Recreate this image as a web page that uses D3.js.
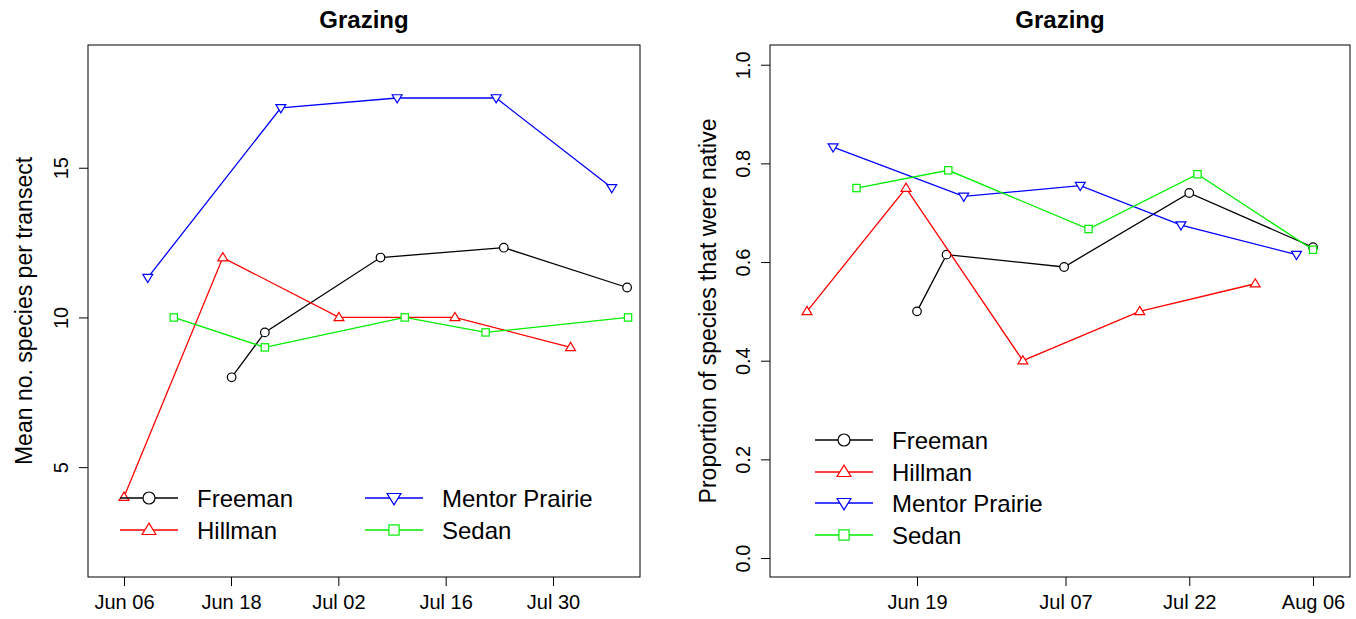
<!DOCTYPE html><html><head><script src="https://cdn.jsdelivr.net/npm/d3@7"></script>
<style>body{margin:0;background:#fff}text{font-family:"Liberation Sans",Arial,sans-serif}</style></head><body>
<svg id="c" width="1356" height="619"></svg>
<script>
const sites=["Freeman","Hillman","Mentor Prairie","Sedan"];
const colors=["#000000","#ff0000","#0000ff","#00ee00"];
const symbols=["circle","up","down","square"];
// left panel: mean number of species per transect
const leftDates=[["2010-06-18T02","2010-06-22T10","2010-07-07T12","2010-07-23T14","2010-08-08T16"],
["2010-06-06","2010-06-17T02","2010-07-02T02","2010-07-17T05","2010-08-01T07"],
["2010-06-08T16","2010-06-24T12","2010-07-09T16","2010-07-22T14","2010-08-06T16"],
["2010-06-11T14","2010-06-22T10","2010-07-10T16","2010-07-21T05","2010-08-08T19"]];
const leftVals=[[8,9.5,12,12.33,11],[4,12,10,10,9],[11.33,17,17.33,17.33,14.33],[10,9,10,9.5,10]];
const leftTicks=["2010-06-06","2010-06-18","2010-07-02","2010-07-16","2010-07-30"];
const leftYTicks=[5,10,15];
// right panel: proportion of species native
const rightDates=[["2010-06-19","2010-06-22T14","2010-07-06T20","2010-07-22","2010-08-06"],
["2010-06-05T16","2010-06-17T16","2010-07-01T20","2010-07-16","2010-07-30"],
["2010-06-08T20","2010-06-24T16","2010-07-08T19","2010-07-21","2010-08-04"],
["2010-06-11T16","2010-06-22T19","2010-07-09T19","2010-07-23","2010-08-06"]];
const rightVals=[[0.5,0.615,0.59,0.74,0.63],[0.5,0.75,0.4,0.5,0.556],[0.833,0.733,0.755,0.675,0.615],[0.75,0.786,0.667,0.778,0.625]];
const rightTicks=["2010-06-19","2010-07-07","2010-07-22","2010-08-06"];
const rightYTicks=[0,0.2,0.4,0.6,0.8,1.0];
const P=s=>d3.isoParse(s.length>10?s+":00":s+"T00:00");
const F=d3.timeFormat("%b %d");
const svg=d3.select("#c");
function sym(g,t,x,y,s){
  if(t=="circle")g.append("circle").attr("cx",x).attr("cy",y).attr("r",s);
  else if(t=="square")g.append("rect").attr("x",x-s*0.85).attr("y",y-s*0.85).attr("width",1.7*s).attr("height",1.7*s);
  else if(t=="up")g.append("path").attr("d",`M${x},${y-s*1.15}L${x+s*1.15},${y+s*0.75}L${x-s*1.15},${y+s*0.75}Z`);
  else g.append("path").attr("d",`M${x},${y+s*1.15}L${x+s*1.15},${y-s*0.75}L${x-s*1.15},${y-s*0.75}Z`);
}
function panel(o){
  const x=d3.scaleTime().domain(o.xa.map(P)).range(o.xr);
  const y=d3.scaleLinear().domain(o.yd).range([577,45]);
  const g=svg.append("g");
  g.append("rect").attr("x",o.x0).attr("y",45).attr("width",o.x1-o.x0).attr("height",532).attr("fill","none").attr("stroke","#000");
  g.append("text").attr("x",(o.x0+o.x1)/2).attr("y",28).attr("text-anchor","middle").attr("font-weight","bold").attr("font-size",24).text("Grazing");
  const xa=g.append("g").attr("transform","translate(0,577)").call(d3.axisBottom(x).tickValues(o.xt.map(P)).tickFormat(F).tickSize(9).tickSizeOuter(0));
  xa.select(".domain").remove();
  xa.selectAll("text").attr("font-size",20).attr("dy","1.0em").attr("font-family","Liberation Sans, Arial");
  const ya=g.append("g").attr("transform",`translate(${o.x0},0)`).call(d3.axisLeft(y).tickValues(o.yt).tickFormat(o.yf).tickSize(9).tickSizeOuter(0));
  ya.select(".domain").remove();
  ya.selectAll("text").attr("font-size",20).attr("text-anchor","middle").attr("x",0).attr("y",-25).attr("dy",0).attr("dominant-baseline","middle").attr("transform","rotate(-90)").attr("font-family","Liberation Sans, Arial");
  g.append("text").attr("transform",`translate(${o.ylx},${311}) rotate(-90)`).attr("text-anchor","middle").attr("font-size",23).text(o.yl);
  o.dates.forEach((ds,i)=>{
    const pts=ds.map((d,j)=>[x(P(d)),y(o.vals[i][j])]);
    g.append("path").attr("d",d3.line()(pts)).attr("fill","none").attr("stroke",colors[i]).attr("stroke-width",1.3);
    const sg=g.append("g").attr("fill","#fff").attr("stroke",colors[i]).attr("stroke-width",1.2);
    pts.forEach(p=>sym(sg,symbols[i],p[0],p[1],4.3));
  });
  o.leg.forEach((L,i)=>{
    g.append("line").attr("x1",L[0]).attr("x2",L[0]+58).attr("y1",L[1]).attr("y2",L[1]).attr("stroke",colors[i]).attr("stroke-width",1.3);
    const sg=g.append("g").attr("fill","#fff").attr("stroke",colors[i]).attr("stroke-width",1.2);
    sym(sg,symbols[i],L[0]+29,L[1],6);
    g.append("text").attr("x",L[0]+77).attr("y",L[1]+9).attr("font-size",24).text(sites[i]);
  });
}
panel({x0:88,x1:640,xa:["2010-06-06","2010-06-18","2010-07-30"],xr:[124,231,553],yd:[1.33,19.1],xt:leftTicks,yt:leftYTicks,yf:d3.format("d"),
  ylx:32,yl:"Mean no. species per transect",dates:leftDates,vals:leftVals,
  leg:[[120,498],[120,530],[365,498],[365,530]]});
panel({x0:770,x1:1350,xa:["2010-06-19","2010-08-06"],xr:[917,1313],yd:[-0.0385,1.04],xt:rightTicks,yt:rightYTicks,yf:d3.format(".1f"),
  ylx:716,yl:"Proportion of species that were native",dates:rightDates,vals:rightVals,
  leg:[[815,440],[815,472],[815,503],[815,535]]});
</script></body></html>
